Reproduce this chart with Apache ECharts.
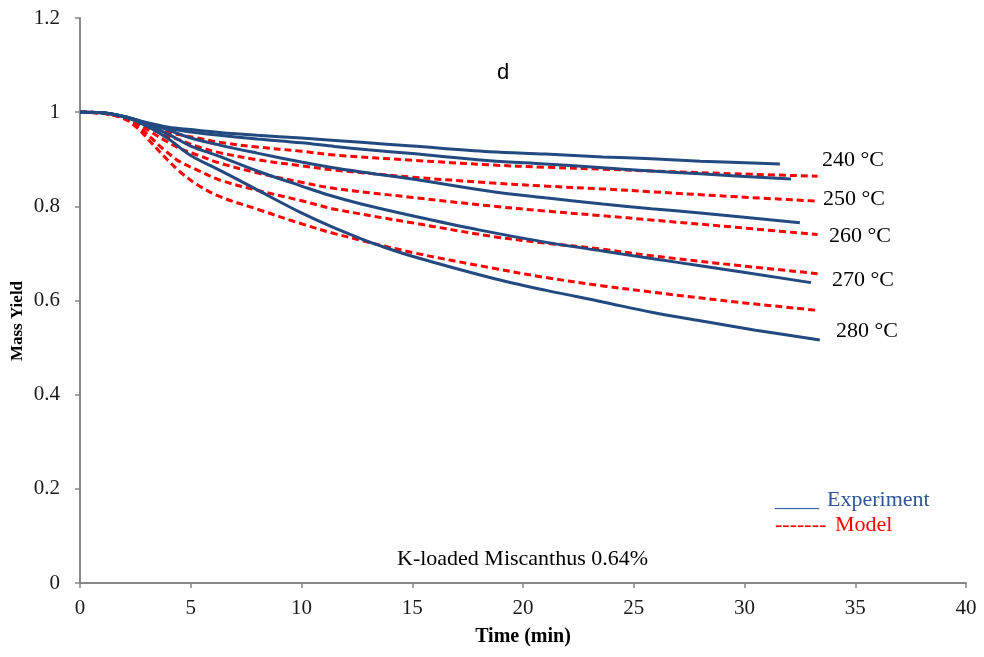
<!DOCTYPE html>
<html>
<head>
<meta charset="utf-8">
<script src="https://cdn.jsdelivr.net/npm/echarts@6/dist/echarts.min.js"></script>
<style>
  html, body { margin: 0; padding: 0; background: #fff; }
  #chart { width: 984px; height: 657px; }
</style>
</head>
<body>
<div id="chart"></div>
<script>
// Mass yield of K-loaded Miscanthus (0.64%) during torrefaction at five temperatures.

const temperatures = ['240 °C', '250 °C', '260 °C', '270 °C', '280 °C'];

// Experimental curves (time in min, mass yield)
const expTime240 = [0, 1, 2, 3, 4, 5, 6.3, 8, 10, 12.7, 15, 18.5, 21, 23.6, 25.8, 28, 31.6];
const expYield240 = [1, 0.999, 0.991, 0.978, 0.968, 0.963, 0.957, 0.951, 0.945, 0.936, 0.928, 0.916, 0.911, 0.905, 0.901, 0.896, 0.890];

const expTime250 = [0, 1, 2, 3, 4, 5, 6.3, 8, 10, 11.5, 13, 15, 18.5, 21, 23.6, 25.8, 28, 32.1];
const expYield250 = [1, 0.999, 0.991, 0.977, 0.966, 0.958, 0.951, 0.943, 0.935, 0.927, 0.920, 0.912, 0.897, 0.890, 0.882, 0.875, 0.869, 0.858];

const expTime260 = [0, 1, 2, 3, 4, 5, 6.3, 8, 10, 11.3, 12.7, 15, 18.5, 21, 23.6, 25.8, 28, 32.5];
const expYield260 = [1, 0.999, 0.990, 0.976, 0.962, 0.945, 0.930, 0.913, 0.894, 0.883, 0.873, 0.858, 0.832, 0.818, 0.805, 0.795, 0.786, 0.765];

const expTime270 = [0, 1, 2, 3, 4, 5, 6.3, 8, 10, 11.3, 12.7, 15, 18, 21, 23.6, 25.8, 28, 33];
const expYield270 = [1, 0.999, 0.990, 0.974, 0.953, 0.928, 0.906, 0.875, 0.843, 0.823, 0.805, 0.780, 0.750, 0.724, 0.705, 0.689, 0.674, 0.638];

const expTime280 = [0, 1, 2, 3, 4, 5, 6.3, 8, 10, 11.3, 12.7, 13.5, 15, 18.5, 21, 23.6, 25.8, 28, 30.5, 33.4];
const expYield280 = [1, 0.999, 0.990, 0.971, 0.943, 0.908, 0.877, 0.835, 0.786, 0.758, 0.731, 0.717, 0.694, 0.649, 0.622, 0.597, 0.575, 0.557, 0.537, 0.516];

// Model curves share one time grid
const modelTime = [0, 1, 2, 2.6, 3.2, 3.8, 4.5, 5.3, 6.3, 8, 10, 11.5, 15, 18.5, 21, 23.6, 25.8, 29, 33.3];
const modelYield240 = [1, 0.998, 0.990, 0.981, 0.969, 0.959, 0.952, 0.945, 0.936, 0.926, 0.917, 0.909, 0.898, 0.888, 0.883, 0.879, 0.875, 0.870, 0.864];
const modelYield250 = [1, 0.998, 0.989, 0.979, 0.965, 0.952, 0.941, 0.927, 0.914, 0.899, 0.886, 0.877, 0.862, 0.850, 0.843, 0.837, 0.831, 0.822, 0.811];
const modelYield260 = [1, 0.998, 0.988, 0.976, 0.958, 0.941, 0.923, 0.909, 0.892, 0.871, 0.851, 0.838, 0.819, 0.801, 0.790, 0.780, 0.771, 0.758, 0.740];
const modelYield270 = [1, 0.998, 0.987, 0.972, 0.946, 0.920, 0.895, 0.877, 0.856, 0.834, 0.812, 0.794, 0.765, 0.737, 0.722, 0.709, 0.695, 0.678, 0.657];
const modelYield280 = [1, 0.998, 0.986, 0.966, 0.936, 0.906, 0.874, 0.846, 0.821, 0.794, 0.763, 0.742, 0.702, 0.670, 0.649, 0.631, 0.618, 0.600, 0.579];

const xTicks = { min: 0, max: 40, interval: 5 };
const yTicks = { min: 0, max: 1.2, interval: 0.2 };

const pairs = (xs, ys) => xs.map((x, i) => [x, ys[i]]);

const expSets = [
  pairs(expTime240, expYield240),
  pairs(expTime250, expYield250),
  pairs(expTime260, expYield260),
  pairs(expTime270, expYield270),
  pairs(expTime280, expYield280)
];
const modelSets = [
  pairs(modelTime, modelYield240),
  pairs(modelTime, modelYield250),
  pairs(modelTime, modelYield260),
  pairs(modelTime, modelYield270),
  pairs(modelTime, modelYield280)
];

const BLUE = '#234a80';
const RED = '#ff0000';
const SERIF = '"Liberation Serif", "Times New Roman", serif';

const series = [];
modelSets.forEach((d, i) => series.push({
  name: 'Model ' + temperatures[i], type: 'line', data: d, smooth: 0.35,
  showSymbol: false, z: 2,
  lineStyle: { color: RED, width: 3, type: [7, 4] }
}));
expSets.forEach((d, i) => series.push({
  name: 'Experiment ' + temperatures[i], type: 'line', data: d, smooth: 0.35,
  showSymbol: false, z: 3,
  lineStyle: { color: BLUE, width: 3 }
}));

// Temperature labels beside the curve ends
const tempLabelPos = [[822, 161], [823, 200], [829, 237], [832, 281], [836, 332]];
const graphics = temperatures.map((t, i) => ({
  type: 'text', left: tempLabelPos[i][0], top: tempLabelPos[i][1] - 12,
  style: { text: t, font: '22px ' + SERIF, fill: '#000' }
}));
graphics.push(
  { type: 'text', left: 497, top: 62,
    style: { text: 'd', font: '22px "Liberation Sans", Arial, sans-serif', fill: '#000' } },
  { type: 'text', left: 397, top: 548,
    style: { text: 'K-loaded Miscanthus 0.64%', font: '22px ' + SERIF, fill: '#000' } },
  // Hand-drawn style key
  { type: 'text', left: 775, top: 489,
    style: { text: '____', font: '22px ' + SERIF, fill: '#2f5597' } },
  { type: 'text', left: 827, top: 489,
    style: { text: 'Experiment', font: '22px ' + SERIF, fill: '#2f5597' } },
  { type: 'text', left: 775, top: 514,
    style: { text: '-------', font: '22px ' + SERIF, fill: RED } },
  { type: 'text', left: 835, top: 514,
    style: { text: 'Model', font: '22px ' + SERIF, fill: RED } },
  // Y axis title
  { type: 'text', x: 18, y: 321, rotation: Math.PI / 2,
    style: { text: 'Mass Yield', font: 'bold 17px ' + SERIF, fill: '#000',
             align: 'center', verticalAlign: 'middle' } }
);

const axisLine = { show: true, lineStyle: { color: '#878787', width: 2 } };
const axisTick = { show: true, length: 5, lineStyle: { color: '#878787', width: 1.5 } };

const chart = echarts.init(document.getElementById('chart'), null, { renderer: 'canvas' });
chart.setOption({
  animation: false,
  backgroundColor: '#fff',
  grid: { left: 80, right: 18, top: 18, bottom: 74, containLabel: false, outerBoundsMode: 'none' },
  xAxis: {
    type: 'value', min: xTicks.min, max: xTicks.max, interval: xTicks.interval,
    name: 'Time (min)', nameLocation: 'middle', nameGap: 44,
    nameTextStyle: { fontFamily: SERIF, fontSize: 20, fontWeight: 'bold', color: '#000' },
    axisLine, axisTick,
    axisLabel: { fontFamily: SERIF, fontSize: 21, color: '#1a1a1a', margin: 15 },
    splitLine: { show: false }
  },
  yAxis: {
    type: 'value', min: yTicks.min, max: yTicks.max, interval: yTicks.interval,
    axisLine, axisTick,
    axisLabel: { fontFamily: SERIF, fontSize: 21, color: '#1a1a1a', margin: 20 },
    splitLine: { show: false }
  },
  series,
  graphic: graphics
});
</script>
</body>
</html>
